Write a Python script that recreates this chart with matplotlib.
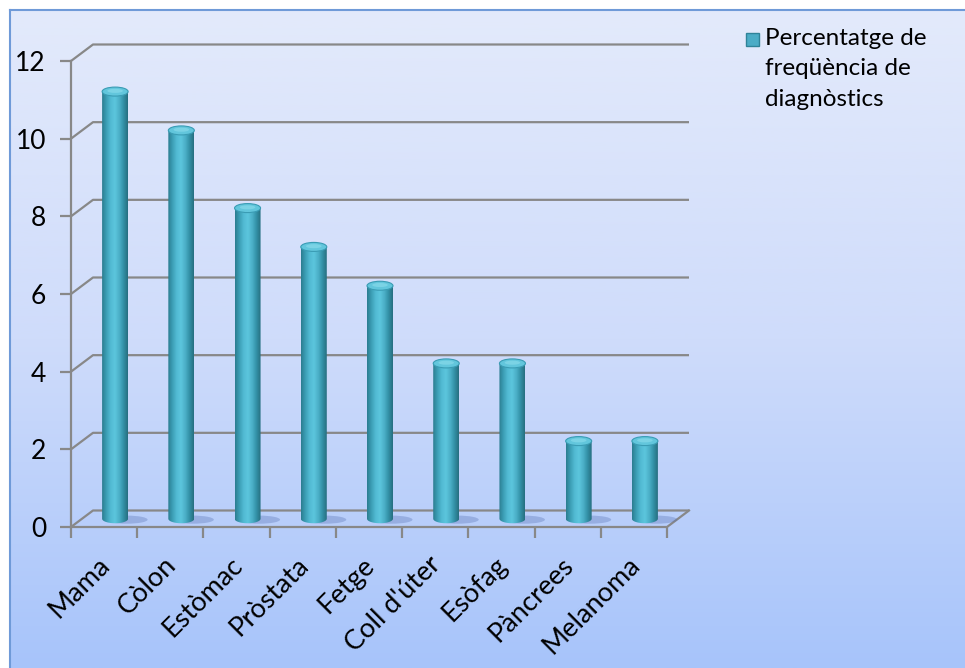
import numpy as np
import matplotlib
matplotlib.use("Agg")
import matplotlib.pyplot as plt
from matplotlib.colors import LinearSegmentedColormap
from matplotlib.patches import Ellipse, Polygon, Rectangle

# data
categories = ["Mama", "Còlon", "Estòmac", "Pròstata", "Fetge",
              "Coll d'úter", "Esòfag", "Pàncrees", "Melanoma"]
values = [11, 10, 8, 7, 6, 4, 4, 2, 2]
yticks = [0, 2, 4, 6, 8, 10, 12]
legend_label = "Percentatge de\nfreqüència de\ndiagnòstics"

plt.rcParams['font.family'] = ['Lato', 'DejaVu Sans']

W, H = 965, 668
fig = plt.figure(figsize=(W / 100, H / 100), dpi=100)

# background with gradient and border
bg = fig.add_axes([10 / W, 0, 1 - 10 / W, (H - 10) / H], zorder=0)
grad = np.linspace(0, 1, 256).reshape(-1, 1)
bg_cmap = LinearSegmentedColormap.from_list("bg", ["#e3eafb", "#cfdcfb", "#a7c4fa"])
bg.imshow(grad, aspect="auto", cmap=bg_cmap, extent=[0, 1, 0, 1], origin="upper")
bg.set_xlim(0, 1)
bg.set_ylim(0, 1)
bg.set_xticks([])
bg.set_yticks([])
for s in ["right", "bottom"]:
    bg.spines[s].set_visible(False)
for s in ["left", "top"]:
    bg.spines[s].set_color("#6f9ad8")
    bg.spines[s].set_linewidth(1.5)

# main plot area (front plane)
x0, x1, y0, y1 = 71, 667, 527, 61
ax = fig.add_axes([x0 / W, (H - y0) / H, (x1 - x0) / W, (y0 - y1) / H], zorder=1)
ax.set_facecolor("none")
n = len(categories)
ax.set_xlim(0, n)
ax.set_ylim(0, 12)
px_x = (x1 - x0) / n
px_y = (y0 - y1) / 12
dx = 22 / px_x       # depth offset in data units
dy = 16.5 / px_y

grid_c = "#888888"
lw = 1.6
for v in yticks:
    ax.plot([0, dx, n + dx], [v, v + dy, v + dy], color=grid_c, lw=lw,
            clip_on=False, zorder=1, solid_capstyle="butt")
# floor
ax.plot([0, n, n + dx], [0, 0, dy], color=grid_c, lw=lw, clip_on=False, zorder=1)

for s in ["top", "right", "bottom"]:
    ax.spines[s].set_visible(False)
ax.spines["left"].set_color(grid_c)
ax.spines["left"].set_linewidth(lw)
ax.set_yticks(yticks)
ax.set_yticklabels([str(v) for v in yticks])
ax.tick_params(axis="y", length=8, width=lw, color=grid_c, labelsize=19, pad=10)
ax.set_xticks(np.arange(n) + 0.5 - 7 / px_x)
ax.set_xticklabels(categories, rotation=45, ha="right", va="top",
                   rotation_mode="anchor", fontsize=19.5)
ax.tick_params(axis="x", length=0, pad=18)
ax.set_xticks(np.arange(n + 1), minor=True)
ax.tick_params(axis="x", which="minor", length=8, width=lw, color=grid_c)

# cylinders
bar_cmap = LinearSegmentedColormap.from_list(
    "cyl", ["#2b7d90", "#3c9fb6", "#52bad3", "#5cc6dd", "#4cb0c8", "#3391a7", "#276f80"])
bw = 26 / px_x
eh = 9 / px_y
ramp = np.linspace(0, 1, 64).reshape(1, -1)
t = np.linspace(0, np.pi, 40)
for i, v in enumerate(values):
    cx = i + 0.5 + dx / 2
    base = dy / 2
    top = v + dy / 2
    # shadow on floor
    ax.add_patch(Ellipse((cx + bw * 0.45, base - eh * 0.1), bw * 1.6, eh * 0.9,
                         facecolor="#5a75b5", alpha=0.35, edgecolor="none",
                         zorder=2, clip_on=False))
    # body with rounded bottom
    xs = np.concatenate([[cx - bw / 2], cx - bw / 2 * np.cos(t), [cx + bw / 2]])
    ys = np.concatenate([[top], base - eh / 2 * np.sin(t), [top]])
    body = Polygon(np.column_stack([xs, ys]), closed=True, facecolor="none",
                   edgecolor="none", transform=ax.transData)
    ax.add_patch(body)
    im = ax.imshow(ramp, aspect="auto", cmap=bar_cmap, interpolation="bilinear",
                   extent=[cx - bw / 2, cx + bw / 2, base - eh, top], zorder=3)
    im.set_clip_path(body)
    # top cap
    ax.add_patch(Ellipse((cx, top), bw, eh, facecolor="#62c6dc",
                         edgecolor="#3a9cb4", lw=0.8, zorder=4, clip_on=False))
    ax.add_patch(Ellipse((cx, top + eh * 0.08), bw * 0.6, eh * 0.45,
                         facecolor="#86d9ea", edgecolor="none", zorder=4,
                         alpha=0.7, clip_on=False))

ax.set_xlim(0, n)
ax.set_ylim(0, 12)

# legend
fig.patches.append(Rectangle((746 / W, 1 - 46 / H), 13 / W, 13 / H,
                             transform=fig.transFigure, facecolor="#4bacc6",
                             edgecolor="#2f8399", lw=1, zorder=5))
fig.text(765 / W, 1 - 28 / H, legend_label, fontsize=17.5, va="top",
         ha="left", linespacing=1.55, zorder=5)

fig.savefig("out.png", dpi=100)
